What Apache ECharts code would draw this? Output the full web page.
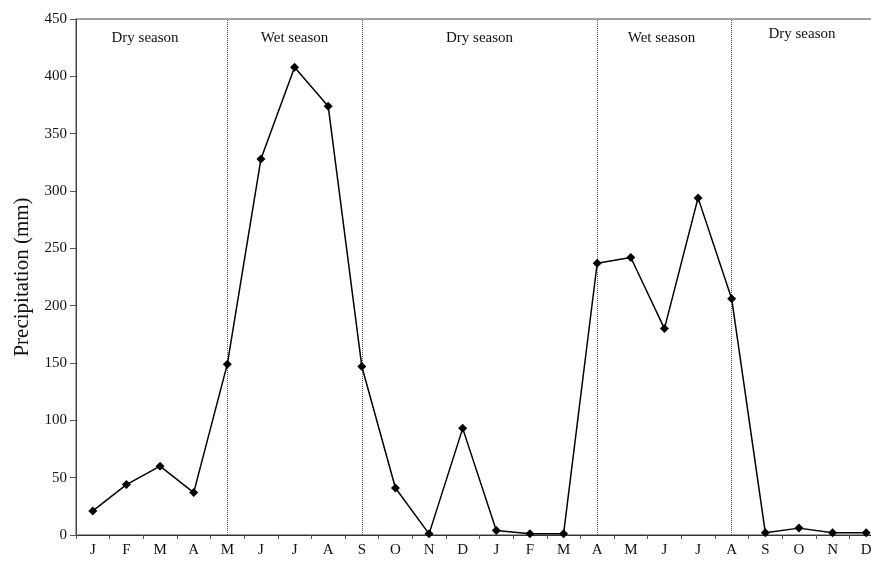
<!DOCTYPE html>
<html>
<head>
<meta charset="utf-8">
<script src="https://cdn.jsdelivr.net/npm/echarts@6/dist/echarts.min.js"></script>
<style>
html,body{margin:0;padding:0;background:#fff;}
#chart{width:871px;height:561px;}
</style>
</head>
<body>
<div id="chart"></div>
<script>
const months = ['J','F','M','A','M','J','J','A','S','O','N','D','J','F','M','A','M','J','J','A','S','O','N','D'];
const precipitation = [21,44,60,37,149,328,408,374,147,41,1,93,4,1,1,237,242,180,294,206,2,6,2,2];
const yTicks = [0,50,100,150,200,250,300,350,400,450];
const seasonBoundaries = [4,8,15,19];
const seasons = [
  {name:'Dry season', from:0, to:4, offset:[-15,0]},
  {name:'Wet season', from:4, to:8, offset:[0,0]},
  {name:'Dry season', from:8, to:15, offset:[0,0]},
  {name:'Wet season', from:15, to:19, offset:[-3,0]},
  {name:'Dry season', from:19, to:23, offset:[3,-4]}
];

const serif = '"Liberation Serif","DejaVu Serif",serif';
const chart = echarts.init(document.getElementById('chart'), null, {renderer:'canvas'});
chart.setOption({
  animation:false,
  backgroundColor:'#fff',
  grid:{left:76, top:19, bottom:26, width:807, containLabel:false, outerBoundsMode:'none',
        show:true, borderColor:'#444', borderWidth:1},
  xAxis:{
    type:'category', data:months, boundaryGap:true,
    axisLine:{lineStyle:{color:'#333', width:1}},
    axisTick:{show:true, length:4, inside:false, lineStyle:{color:'#555'}},
    axisLabel:{color:'#111', fontFamily:serif, fontSize:15, margin:8, interval:0},
    splitLine:{show:false}
  },
  yAxis:{
    type:'value', min:0, max:450, interval:50,
    name:'Precipitation (mm)', nameLocation:'middle', nameGap:43,
    nameTextStyle:{fontFamily:serif, fontSize:21, color:'#111'},
    axisLine:{show:true, lineStyle:{color:'#444', width:1}},
    axisTick:{show:true, length:6, lineStyle:{color:'#555'}},
    axisLabel:{color:'#111', fontFamily:serif, fontSize:15, margin:9,
      formatter:function(v){return yTicks.indexOf(v)>=0 ? String(v) : '';}},
    splitLine:{show:false}
  },
  series:[{
    type:'line', data:precipitation,
    symbol:'diamond', symbolSize:9,
    lineStyle:{color:'#000', width:1.5},
    itemStyle:{color:'#000'},
    z:5,
    markLine:{
      silent:true, symbol:['none','none'],
      label:{show:false},
      lineStyle:{type:[1,1], color:'#555', width:1},
      data: seasonBoundaries.map(function(i){return {xAxis:i};})
    },
    markArea:{
      silent:true,
      itemStyle:{color:'rgba(0,0,0,0)'},
      label:{show:true, position:'insideTop', distance:12, fontFamily:serif, fontSize:15, color:'#111'},
      data: seasons.map(function(s){
        return [{name:s.name, xAxis:s.from, yAxis:450, label:{offset:s.offset}}, {xAxis:s.to, yAxis:0}];
      })
    }
  }]
});
</script>
</body>
</html>
